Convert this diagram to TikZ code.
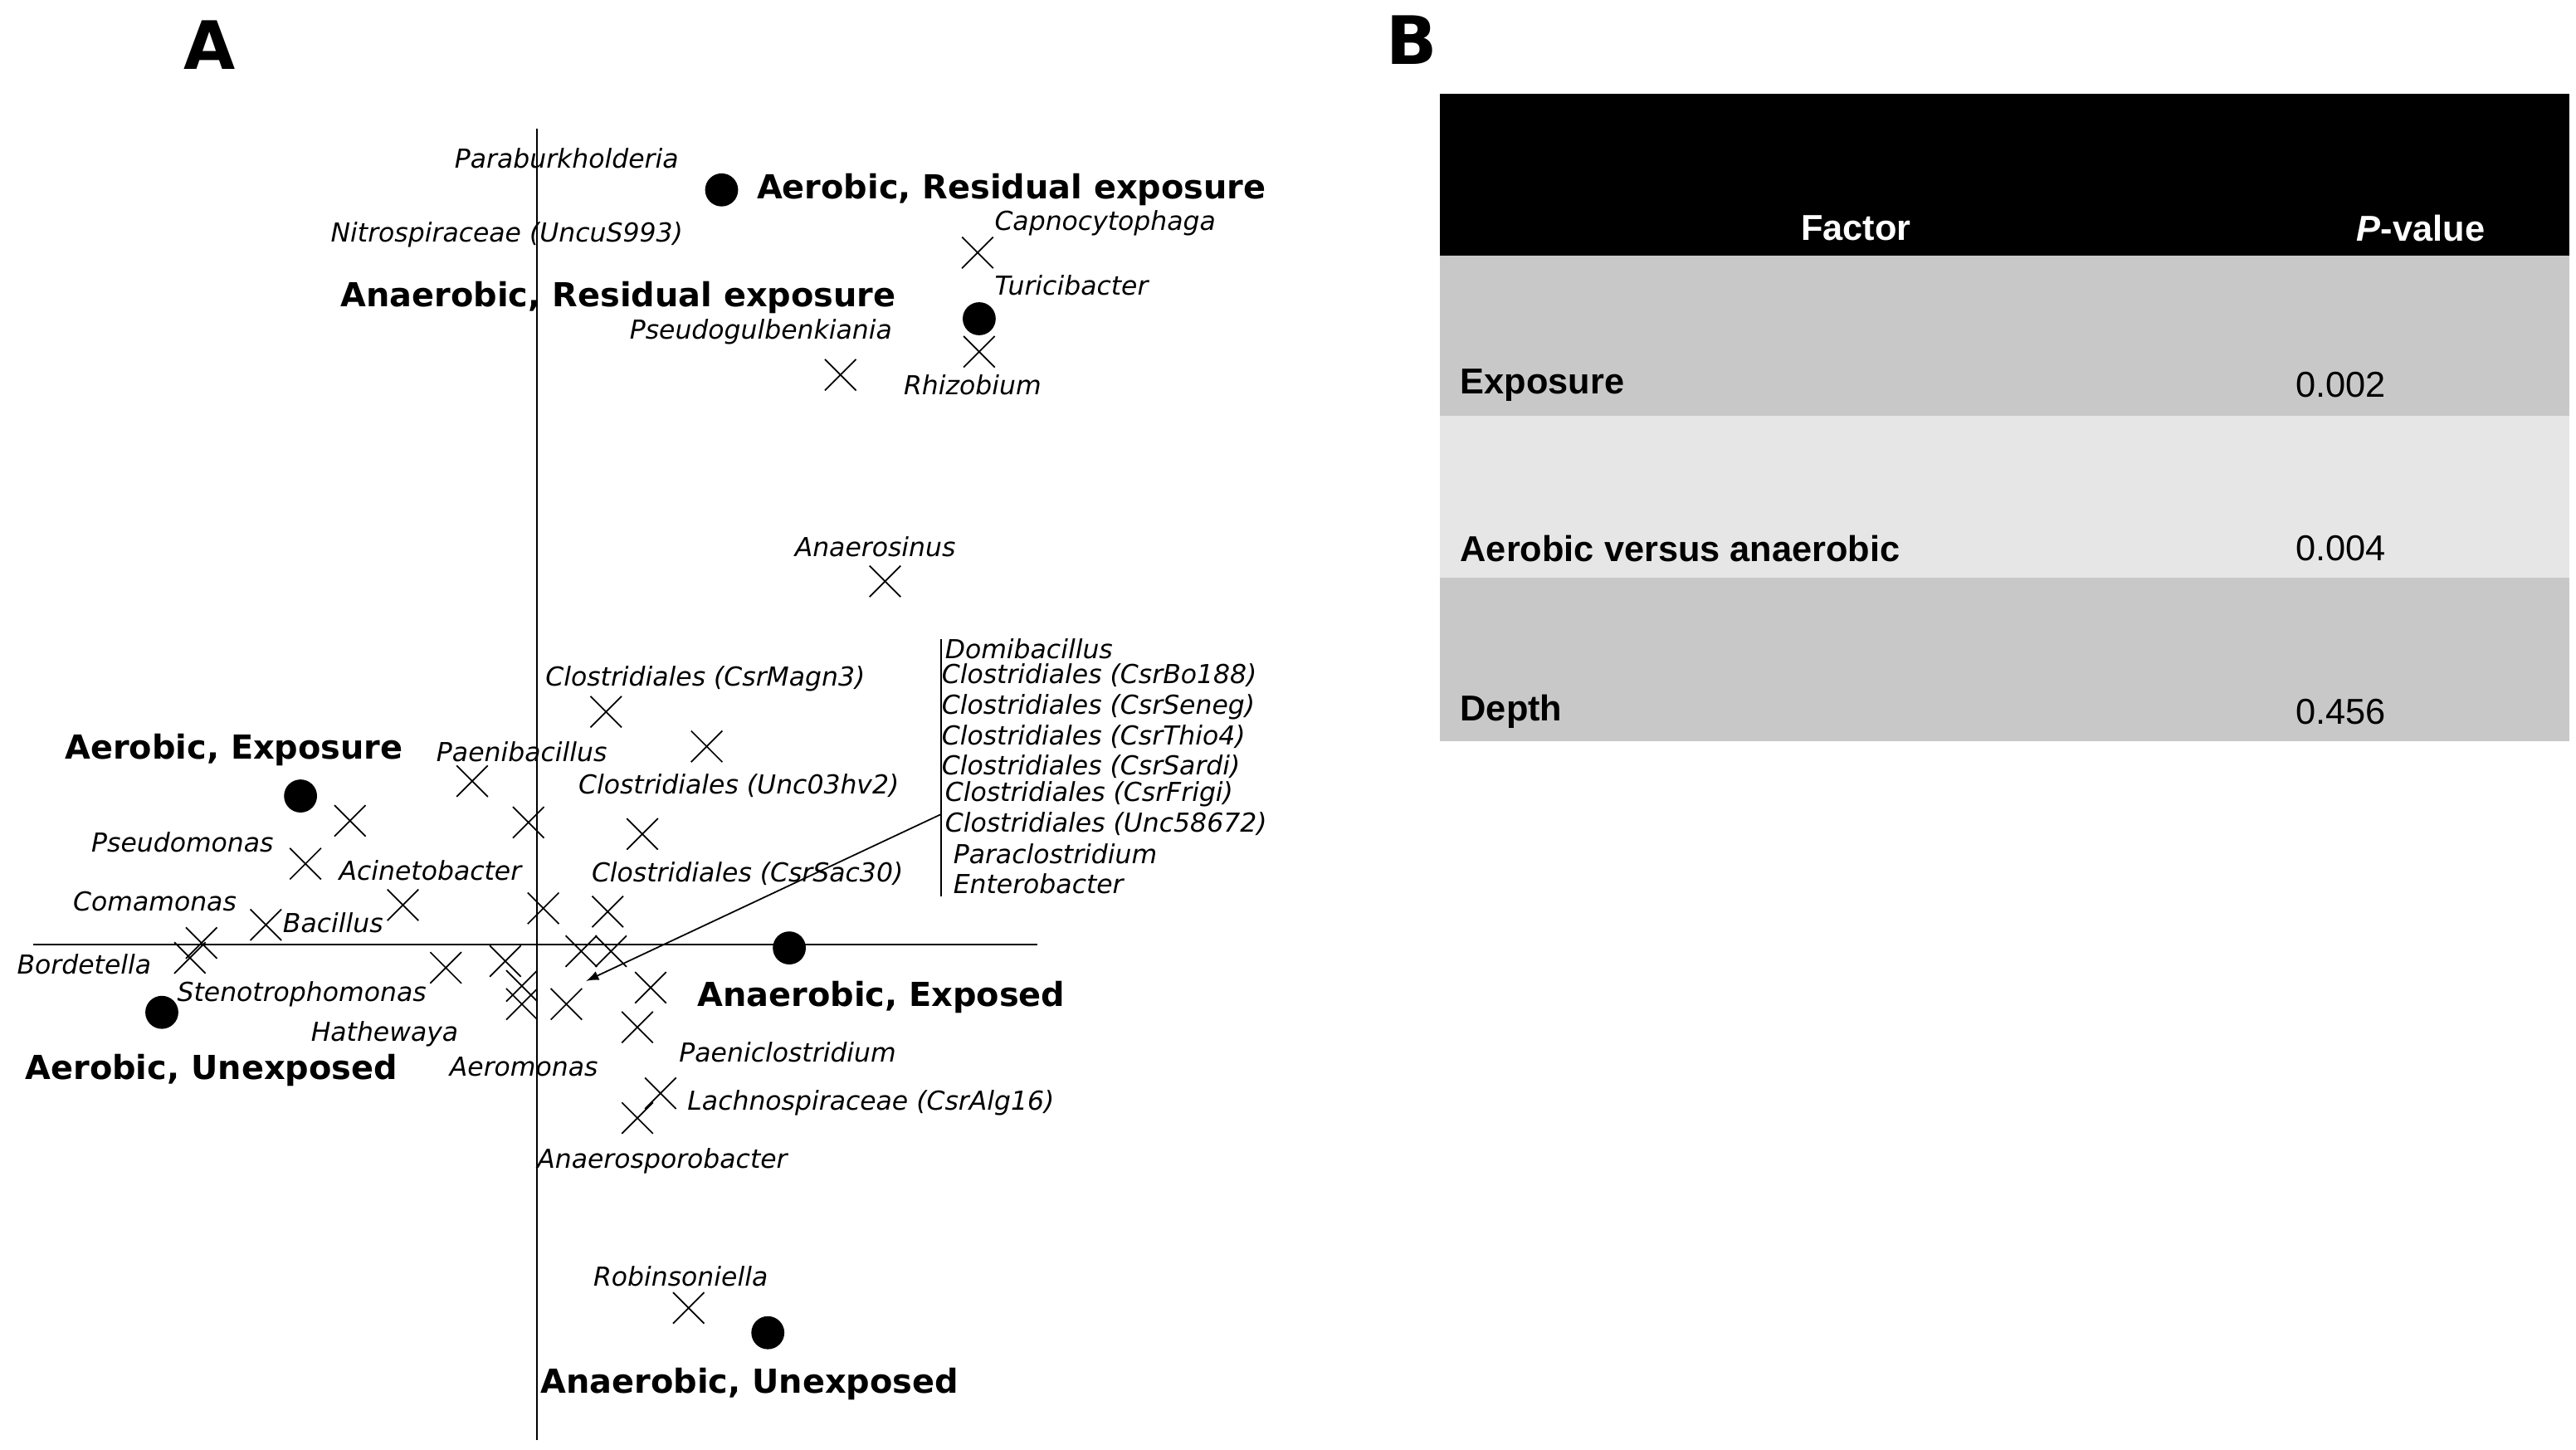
\documentclass[tikz,border=0pt]{standalone}
\usepackage{fontspec}
\setmainfont{DejaVu Sans}
\newfontfamily\tabfont{Liberation Sans}
\usetikzlibrary{shapes.misc}
\definecolor{rowdark}{RGB}{200,200,200}
\definecolor{rowlight}{RGB}{230,230,230}
\tikzset{
  tx/.style={draw,cross out,minimum size=0.36cm,inner sep=0pt,line width=0.5pt},
  grp/.style={fill=black,circle,minimum size=0.4cm,inner sep=0pt},
  lbl/.style={anchor=west,inner sep=0pt,font=\fontsize{9}{10}\selectfont\itshape},
  glbl/.style={anchor=west,inner sep=0pt,font=\fontsize{11.4}{12}\selectfont\bfseries},
  tlbl/.style={inner sep=0pt,font=\tabfont\fontsize{12.4}{13}\selectfont},
}
\begin{document}
\begin{tikzpicture}[x=0.02cm,y=-0.02cm]
                \useasboundingbox (0,0) rectangle (1560,878);
                % Panel letters
                \node[font=\fontsize{23}{24}\selectfont\bfseries] (pa) at (127,27) {A};
                \node[font=\fontsize{23}{24}\selectfont\bfseries] (pb) at (855,24) {B};
                % Axes
                \coordinate (vt) at (325,78); \coordinate (vb) at (325,872);
                \coordinate (hl) at (20,572); \coordinate (hr) at (628,572);
                \draw[line width=0.6pt] (vt) -- (vb);
                \draw[line width=0.6pt] (hl) -- (hr);
                % Taxa
                \foreach \x/\y [count=\i] in {592/153,593/213,509/227,536/352,367/431,428/452,
                    286/473,212/497,320/498,389/505,185/523,244/548,329/550,368/552,161/560,
                    122/571,115/580,270/586,306/582,352/576,370/576,316/597,316/608,343/608,
                    394/598,386/622,400/662,386/677,417/792}
                    \node[tx] (t\i) at (\x,\y) {};
                % Group centroids
                \node[grp] (arx) at (437,115) {};
                \node[grp] (anrx) at (593,193) {};
                \node[grp] (aex) at (182,482) {};
                \node[grp] (aun) at (98,613) {};
                \node[grp] (anex) at (478,574) {};
                \node[grp] (anun) at (465,807) {};
                % Group labels
                \node[glbl] (l-arx) at (458,115) {Aerobic, Residual exposure};
                \node[glbl] (l-anrx) at (206,180) {Anaerobic, Residual exposure};
                \node[glbl] (l-aex) at (39,454) {Aerobic, Exposure};
                \node[glbl] (l-aun) at (15,648) {Aerobic, Unexposed};
                \node[glbl] (l-anex) at (422,604) {Anaerobic, Exposed};
                \node[glbl] (l-anun) at (327,838) {Anaerobic, Unexposed};
                % Taxon labels
                \node[lbl] (n1) at (275,96) {Paraburkholderia};
                \node[lbl] (n2) at (200,142) {Nitrospiraceae (UncuS993)};
                \node[lbl] (n3) at (602,135) {Capnocytophaga};
                \node[lbl] (n4) at (602,173) {Turicibacter};
                \node[lbl] (n5) at (381,201) {Pseudogulbenkiania};
                \node[lbl] (n6) at (547,233) {Rhizobium};
                \node[lbl] (n7) at (481,331) {Anaerosinus};
                \node[lbl] (n8) at (330,411) {Clostridiales (CsrMagn3)};
                \node[lbl] (n9) at (264,455) {Paenibacillus};
                \node[lbl] (n10) at (350,476) {Clostridiales (Unc03hv2)};
                \node[lbl] (n11) at (55,510) {Pseudomonas};
                \node[lbl] (n12) at (205,527) {Acinetobacter};
                \node[lbl] (n13) at (358,529) {Clostridiales (CsrSac30)};
                \node[lbl] (n14) at (44,546) {Comamonas};
                \node[lbl] (n15) at (171,559) {Bacillus};
                \node[lbl] (n16) at (10,584) {Bordetella};
                \node[lbl] (n17) at (107,602) {Stenotrophomonas};
                \node[lbl] (n18) at (188,626) {Hathewaya};
                \node[lbl] (n19) at (272,646) {Aeromonas};
                \node[lbl] (n20) at (411,637) {Paeniclostridium};
                \node[lbl] (n21) at (416,668) {Lachnospiraceae (CsrAlg16)};
                \node[lbl] (n22) at (325,703) {Anaerosporobacter};
                \node[lbl] (n23) at (359,773) {Robinsoniella};
                % Stacked list near origin
                \foreach \t/\y/\dx [count=\i] in {Domibacillus/393/2,Clostridiales (CsrBo188)/409/0,
                    Clostridiales (CsrSeneg)/428/0,Clostridiales (CsrThio4)/446/0,
                    Clostridiales (CsrSardi)/464/0,Clostridiales (CsrFrigi)/481/2,
                    Clostridiales (Unc58672)/499/2,Paraclostridium/517/7,Enterobacter/535/7}
                    \node[lbl] (s\i) at (570+\dx,\y) {\t};
                \coordinate (bt) at (570,387); \coordinate (bb) at (570,543);
                \draw[line width=0.5pt] (bt) -- (bb);
                \coordinate (ab) at (570,493); \coordinate (at) at (355,594);
                \draw[-latex,line width=0.5pt] (ab) -- (at);
                % Table
                \fill[black] (872,57) rectangle (1556,155);
                \fill[rowdark] (872,155) rectangle (1556,252);
                \fill[rowlight] (872,252) rectangle (1556,350);
                \fill[rowdark] (872,350) rectangle (1556,449);
                \node[tlbl,text=white,font=\tabfont\fontsize{12.4}{13}\selectfont\bfseries] (hf) at (1124,138) {Factor};
                \node[tlbl,text=white,font=\tabfont\fontsize{12.4}{13}\selectfont\bfseries] (hp) at (1466,138) {\textit{P}-value};
                \node[tlbl,anchor=west,font=\tabfont\fontsize{12.4}{13}\selectfont\bfseries] (f1) at (884,233) {Exposure};
                \node[tlbl,anchor=west,font=\tabfont\fontsize{12.4}{13}\selectfont\bfseries] (f2) at (884,332) {Aerobic versus anaerobic};
                \node[tlbl,anchor=west,font=\tabfont\fontsize{12.4}{13}\selectfont\bfseries] (f3) at (884,431) {Depth};
                \node[tlbl,anchor=west] (p1) at (1390,233) {0.002};
                \node[tlbl,anchor=west] (p2) at (1390,332) {0.004};
                \node[tlbl,anchor=west] (p3) at (1390,431) {0.456};
\end{tikzpicture}
\end{document}
